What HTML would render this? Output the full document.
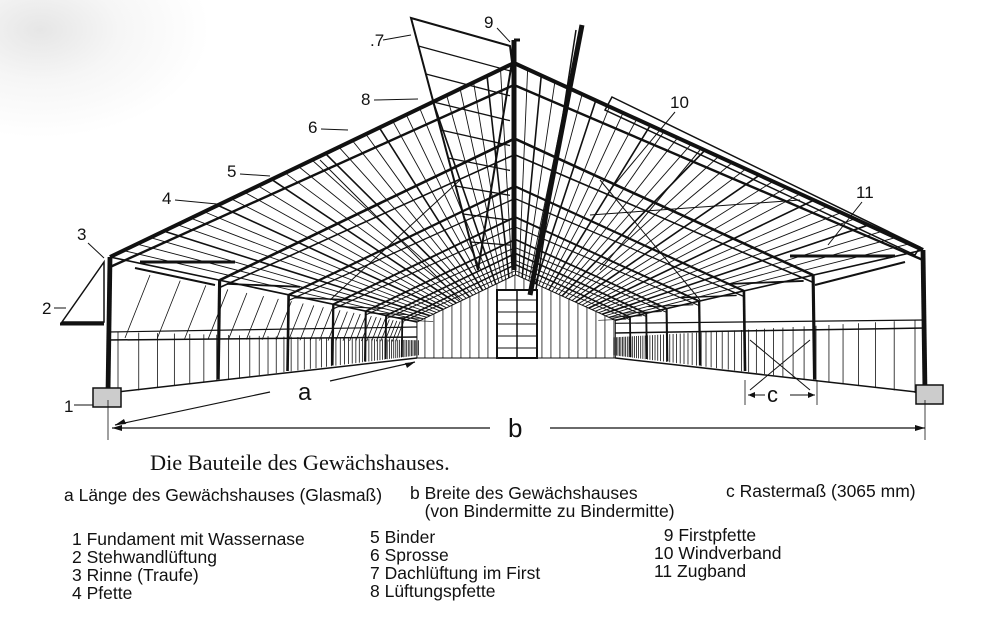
<!DOCTYPE html>
<html><head><meta charset="utf-8">
<style>
html,body{margin:0;padding:0;background:#fff;}
body{width:1000px;height:640px;position:relative;overflow:hidden;
background:radial-gradient(ellipse at 40px 30px,#e6e6e6 0,#f6f6f6 80px,#fff 170px);}
svg{position:absolute;left:0;top:0}
.t{position:absolute;font-family:"Liberation Sans",sans-serif;font-size:17.5px;color:#111;line-height:18px;white-space:nowrap}
.title{position:absolute;left:150px;top:450px;font-family:"Liberation Serif",serif;font-size:22.3px;color:#111;white-space:nowrap}
</style></head><body>
<svg id="s" width="1000" height="640" viewBox="0 0 1000 640"></svg>
<div class="title">Die Bauteile des Gewächshauses.</div>
<div class="t" style="left:64px;top:486px">a Länge des Gewächshauses (Glasmaß)</div>
<div class="t" style="left:410px;top:484px">b Breite des Gewächshauses<br>&nbsp;&nbsp; (von Bindermitte zu Bindermitte)</div>
<div class="t" style="left:726px;top:482px">c Rastermaß (3065 mm)</div>
<div class="t" style="left:72px;top:530px">1 Fundament mit Wassernase<br>2 Stehwandlüftung<br>3 Rinne (Traufe)<br>4 Pfette</div>
<div class="t" style="left:370px;top:528px">5 Binder<br>6 Sprosse<br>7 Dachlüftung im First<br>8 Lüftungspfette</div>
<div class="t" style="left:654px;top:526px">&nbsp;&nbsp;9 Firstpfette<br>10 Windverband<br>11 Zugband</div>
<script>
var s=document.getElementById('s'),h='';
function L(a,b,c,d,w,col){h+='<line x1="'+a+'" y1="'+b+'" x2="'+c+'" y2="'+d+'" stroke="'+(col||'#111')+'" stroke-width="'+(w||1)+'"/>';}
function T(x,y,t,sz){h+='<text x="'+x+'" y="'+y+'" font-family="Liberation Sans,sans-serif" font-size="'+(sz||19)+'" fill="#111">'+t+'</text>';}
var VX=516,VY=343;
function P(x,y,sc){return [VX+(x-VX)*sc,VY+(y-VY)*sc];}
var LE=[110,257],AP=[514,63],RE=[923,250],LF=[108,393],RF=[925,393];
var bs=0.244;
var bl=P(LE[0],LE[1],bs),ba=P(AP[0],AP[1],bs),br=P(RE[0],RE[1],bs);
h+='<polygon points="'+bl+' '+ba+' '+br+' '+br[0]+',358 '+bl[0]+',358" fill="#fff" stroke="#111"/>';
for(var x=bl[0]+8;x<br[0];x+=9){var yt=x<ba[0]?bl[1]+(ba[1]-bl[1])*(x-bl[0])/(ba[0]-bl[0]):ba[1]+(br[1]-ba[1])*(x-ba[0])/(br[0]-ba[0]);L(x,yt,x,358,0.8);}
h+='<rect x="497" y="290" width="40" height="68" fill="#fff" stroke="#111" stroke-width="2"/>';
for(var y=300;y<358;y+=12)L(497,y,537,y,1);L(517,290,517,358,1.5);
L(LF[0],LF[1],bl[0],358,1.5);L(RF[0],RF[1],br[0],358,1.5);L(bl[0],358,br[0],358,1);
var LW=[108,332],RW=[925,320];
L(LW[0],LW[1],bl[0],bl[1]+5,1.2);L(108,340,bl[0],337,1.5);
L(RW[0],RW[1],br[0],br[1]+3,1.2);L(925,328,br[0],333,1.5);
for(var i=0;i<60;i++){var sc=1/(1+i*0.055);if(sc<bs)break;
 var a=P(LF[0]+10,LF[1],sc),b=P(LW[0]+10,LW[1],sc);L(a[0],a[1],b[0],b[1],0.8);
 a=P(RF[0]-10,RF[1],sc);b=P(RW[0]-10,RW[1],sc);L(a[0],a[1],b[0],b[1],0.8);}
for(var i=0;i<40;i++){var sc=1/(1+i*0.09);if(sc<0.3)break;var a=P(125,338,sc),b=P(150,275,sc);L(a[0],a[1],b[0],b[1],0.8);}
for(var k=0;k<=30;k++){var t=k/30;
 var fx=LE[0]+(AP[0]-LE[0])*t,fy=LE[1]+(AP[1]-LE[1])*t,q=P(fx,fy,bs);L(fx,fy,q[0],q[1],k%4==0?1.6:0.9);
 fx=RE[0]+(AP[0]-RE[0])*t;fy=RE[1]+(AP[1]-RE[1])*t;q=P(fx,fy,bs);L(fx,fy,q[0],q[1],k%4==0?1.6:0.9);}
var scs=[1,0.73,0.56,0.45,0.37,0.32,0.28];
scs.forEach(function(sc,i){var w=i==0?4:2.5*sc+0.8;
 var le=P(LE[0],LE[1],sc),ap=P(AP[0],AP[1],sc),re=P(RE[0],RE[1],sc),lf=P(LF[0],LF[1],sc),rf=P(RF[0],RF[1],sc);
 L(le[0],le[1],ap[0],ap[1],w);L(re[0],re[1],ap[0],ap[1],w);
 L(le[0],le[1]+10*sc,ap[0],ap[1]+22*sc,w*0.6);L(re[0],re[1]+10*sc,ap[0],ap[1]+22*sc,w*0.6);
 L(le[0],le[1],lf[0],lf[1],w*1.2);L(re[0],re[1],rf[0],rf[1],w*1.2);
 var zl=P(140,262,sc),zr=P(890,258,sc);
 if(i>0){L(zl[0]-20*sc,zl[1],zl[0]+80*sc,zl[1]+4*sc,2.5*sc);L(zr[0]+20*sc,zr[1],zr[0]-80*sc,zr[1]+4*sc,2.5*sc);}
});
L(140,262,235,262,3);L(790,256,895,256,3);L(135,268,215,285,2);L(905,262,815,285,2);
L(514,40,514,270,5);L(514,40,520,40,3);
h+='<polygon points="411,18 510,46 512,62 478,270" fill="none" stroke="#111" stroke-width="2"/>';
for(var k=1;k<9;k++){var t=k/9;L(411+67*t,18+252*t,510,46+224*t,1.3);}
L(582,25,530,295,5);L(576,30,536,290,1.5);
h+='<polygon points="612,97 920,247 915,255 605,110" fill="none" stroke="#111" stroke-width="1.5"/>';
L(320,160,460,300,1);L(460,180,330,300,1);L(600,180,700,300,1);L(700,150,600,270,1);
L(590,215,800,200,1);L(750,340,810,390,1);L(810,340,750,390,1);
h+='<polygon points="104,262 62,322 104,322" fill="none" stroke="#111" stroke-width="1.5"/>';L(60,324,104,324,3);
h+='<rect x="93" y="388" width="28" height="19" fill="#ccc" stroke="#111" stroke-width="1.5"/>';
h+='<rect x="916" y="385" width="27" height="19" fill="#ccc" stroke="#111" stroke-width="1.5"/>';
L(108,400,108,440,0.8);L(925,400,925,440,0.8);
L(112,428,490,428,1.2);L(550,428,925,428,1.2);
h+='<polygon points="112,428 122,425 122,431" fill="#111"/><polygon points="925,428 915,425 915,431" fill="#111"/>';
L(115,425,270,392,1.2);L(330,381,415,362,1.2);
h+='<polygon points="115,425 124,419 126,424" fill="#111"/><polygon points="415,362 405,363 407,368" fill="#111"/>';
L(745,380,745,405,0.8);L(817,380,817,405,0.8);L(748,395,765,395,1);L(790,395,815,395,1);
h+='<polygon points="748,395 755,392 755,398" fill="#111"/><polygon points="815,395 808,392 808,398" fill="#111"/>';
T(298,400,'a',24);T(508,437,'b',26);T(767,402,'c',22);
T(64,412,'1',17);L(74,405,93,405,1);
T(42,314,'2',17);L(54,308,66,308,1);
T(77,240,'3',17);L(88,243,104,258,1);
T(162,204,'4',17);L(175,200,217,204,1);
T(227,177,'5',17);L(240,174,270,176,1);
T(308,133,'6',17);L(321,129,348,130,1);
T(370,46,'.7',17);L(383,40,411,35,1);
T(361,105,'8',17);L(374,100,418,99,1);
T(484,28,'9',17);L(497,28,510,42,1);
T(670,108,'10',17);L(675,112,610,190,1);
T(856,198,'11',17);L(862,202,828,245,1);
s.innerHTML=h;
</script>
</body></html>
